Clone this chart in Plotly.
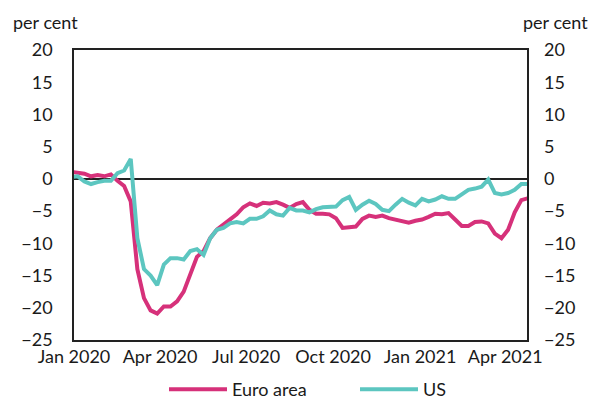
import pandas as pd
import plotly.graph_objects as go

# Weekly observations, starting 29 Dec 2019
dates = pd.date_range("2019-12-29", periods=70, freq="7D")

euro_area = [
    1.1, 0.9, 0.8, 0.4, 0.6, 0.4, 0.7, -0.3, -1.1, -3.5,
    -14.0, -18.5, -20.4, -20.9, -19.8, -19.8, -19.0, -17.5, -14.9, -12.1,
    -11.2, -9.2, -7.9, -7.1, -6.2, -5.5, -4.4, -3.8, -4.2, -3.7,
    -3.8, -3.6, -4.0, -4.5, -3.9,
    -3.6, -4.8, -5.4, -5.4, -5.5, -6.1, -7.6, -7.5, -7.4, -6.2,
    -5.7, -5.9, -5.7, -6.1, -6.3, -6.5, -6.8, -6.5, -6.3, -5.9,
    -5.4, -5.5, -5.3, -6.3, -7.3, -7.3, -6.7, -6.6, -6.9, -8.5,
    -9.2, -7.9, -5.2, -3.3, -3.0,
]

us = [
    0.3, 0.4, -0.4, -0.8, -0.5, -0.3, -0.3, 0.9, 1.3, 3.1,
    -9.2, -14.0, -15.0, -16.5, -13.3, -12.3, -12.3, -12.5, -11.2, -10.9,
    -11.8, -9.2, -7.9, -7.6, -6.9, -6.7, -6.9, -6.2, -6.2, -5.8,
    -4.9, -5.5, -5.7, -4.5, -4.9,
    -4.9, -5.2, -4.7, -4.4, -4.4, -4.3, -3.3, -2.8, -4.8, -4.0,
    -3.4, -3.9, -4.8, -5.0, -4.0, -3.1, -3.7, -4.1, -3.1, -3.5,
    -3.2, -2.7, -3.1, -3.1, -2.4, -1.7, -1.5, -1.2, -0.1, -2.2,
    -2.4, -2.2, -1.7, -0.8, -0.8,
]

tick_dates = ["2020-01-01", "2020-04-01", "2020-07-01", "2020-10-01", "2021-01-01", "2021-04-01"]
tick_labels = ["Jan 2020", "Apr 2020", "Jul 2020", "Oct 2020", "Jan 2021", "Apr 2021"]
y_ticks = [20, 15, 10, 5, 0, -5, -10, -15, -20, -25]

EURO_COL = "#D6317A"
US_COL = "#5CC6C0"
FONT = "Lato, 'Open Sans', sans-serif"
FS = 18

W, H = 589, 401
# target plot area on screen: x 74..527, y 50..340
L, T = 74, 50
R = W - 527
B = H - 340
pw = W - L - R
ph = H - T - B


def px_x(sx):
    return (sx - L) / pw


def px_y(sy):
    return (H - B - sy) / ph


fig = go.Figure()
fig.add_trace(go.Scatter(x=dates, y=euro_area, name="Euro area", mode="lines",
                         line=dict(color=EURO_COL, width=4)))
fig.add_trace(go.Scatter(x=dates, y=us, name="US", mode="lines",
                         line=dict(color=US_COL, width=4)))
# invisible trace to carry the right-hand axis
fig.add_trace(go.Scatter(x=[dates[0]], y=[0], yaxis="y2", mode="lines",
                         line=dict(width=0), showlegend=False, hoverinfo="skip"))

fig.update_layout(
    width=W, height=H,
    margin=dict(l=L, r=R, t=T, b=B, autoexpand=False),
    paper_bgcolor="white", plot_bgcolor="white",
    font=dict(family=FONT, size=FS, color="#1a1a1a"),
    showlegend=True,
    legend=dict(orientation="h", x=px_x(170 - 6), xanchor="left",
                y=px_y(390 - 19), yanchor="top",
                font=dict(size=FS), itemwidth=58, entrywidth=118,
                traceorder="normal", bgcolor="rgba(0,0,0,0)"),
    xaxis=dict(
        type="date", range=["2020-01-01", "2021-04-24"],
        tickvals=tick_dates, ticktext=tick_labels,
        showgrid=False, zeroline=False, ticks="",
        showline=True, linecolor="#222222", linewidth=1.5, mirror=True,
        tickfont=dict(size=FS), automargin=False,
    ),
    yaxis=dict(
        range=[-25, 20], tickvals=y_ticks, showgrid=False,
        zeroline=True, zerolinecolor="#222222", zerolinewidth=1.5,
        showline=True, linecolor="#222222", linewidth=1.5, mirror=True,
        ticks="", tickfont=dict(size=FS), ticklabelstandoff=16, automargin=False,
    ),
    yaxis2=dict(
        range=[-25, 20], tickvals=y_ticks, overlaying="y", side="right",
        showgrid=False, zeroline=False, showline=False, ticks="",
        tickfont=dict(size=FS), ticklabelstandoff=16, automargin=False,
    ),
    annotations=[
        dict(text="per cent", x=px_x(45), y=px_y(22), xref="paper", yref="paper",
             xanchor="center", yanchor="middle", showarrow=False, font=dict(size=FS)),
        dict(text="per cent", x=px_x(555), y=px_y(22), xref="paper", yref="paper",
             xanchor="center", yanchor="middle", showarrow=False, font=dict(size=FS)),
    ],
)

fig.write_html(
    "out.html",
    config={"displayModeBar": False},
    post_script="document.body.style.margin='0';document.body.style.overflow='hidden';",
)
